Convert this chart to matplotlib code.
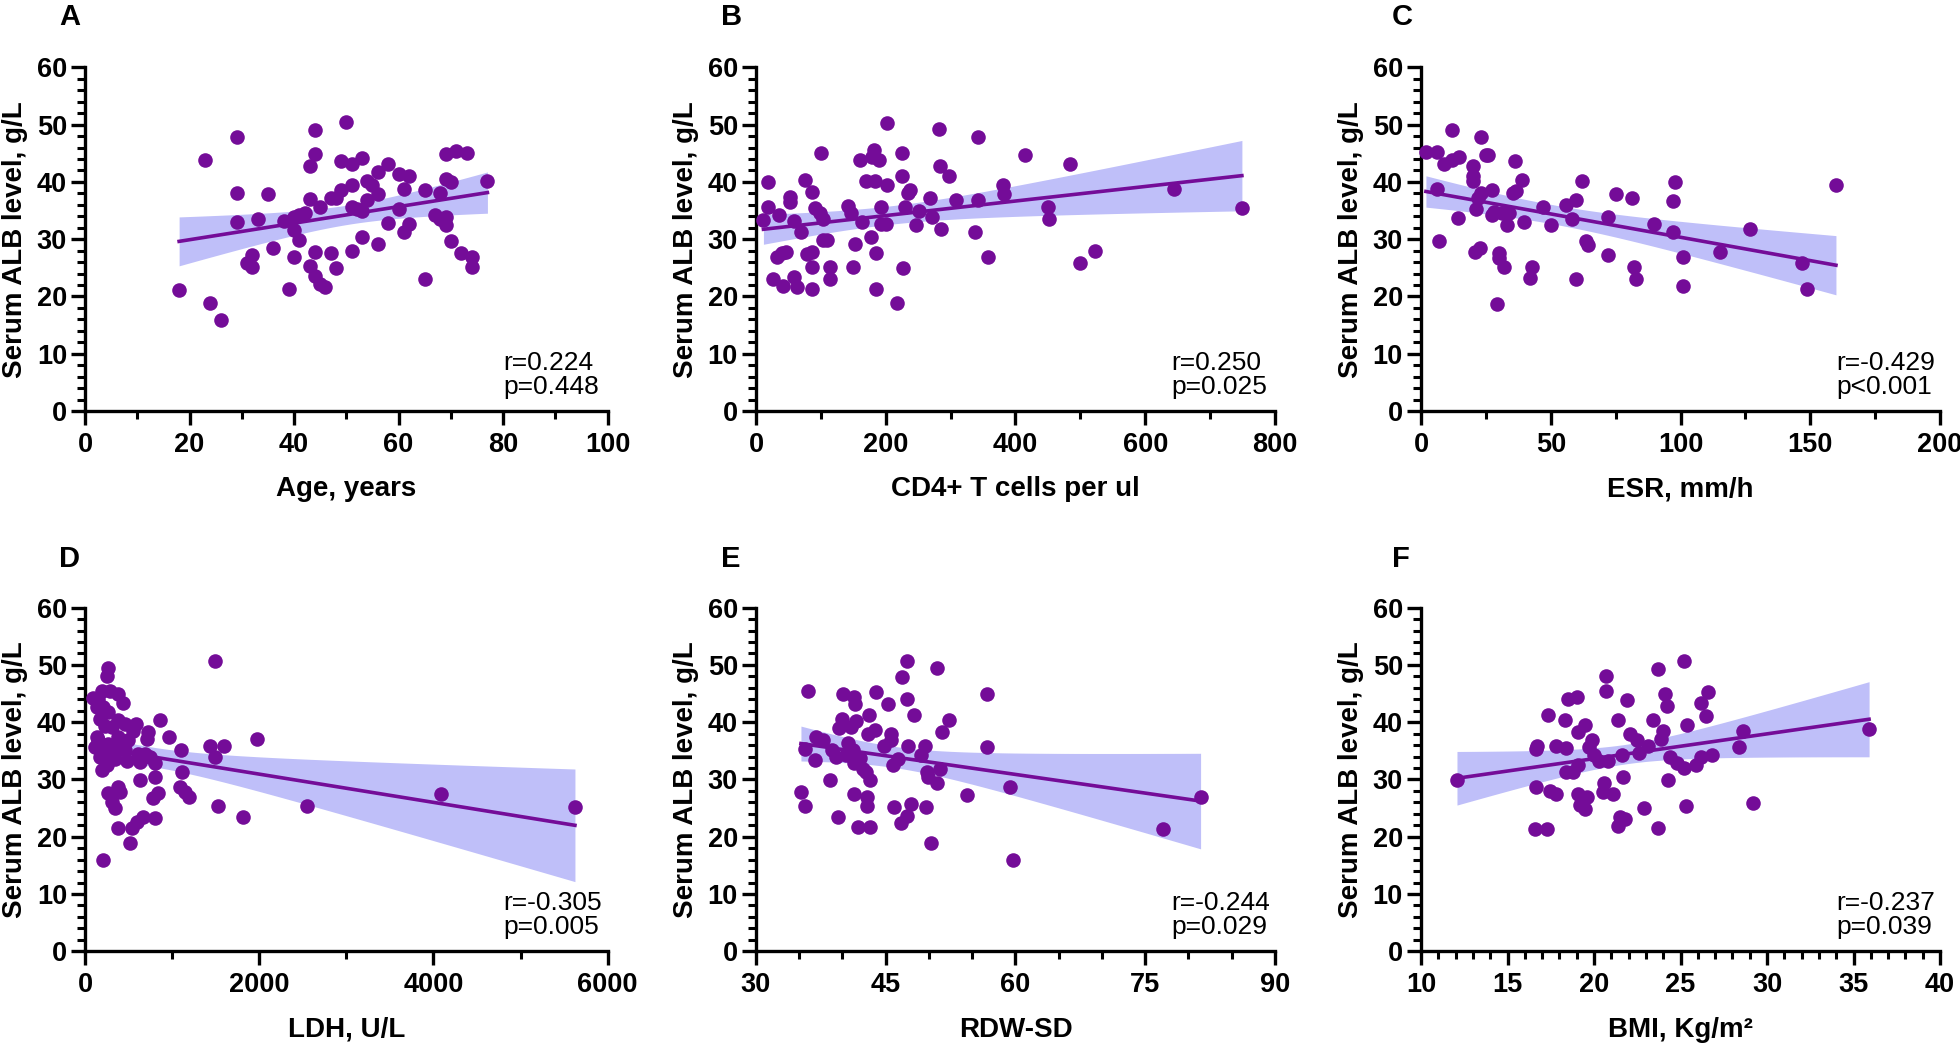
import numpy as np
import matplotlib
matplotlib.use("Agg")
import matplotlib.pyplot as plt
from matplotlib.ticker import MultipleLocator

plt.rcParams['font.family'] = ['Liberation Sans', 'DejaVu Sans']

# data
age_x = [18, 23, 24, 26, 29, 29, 29, 31, 32, 32, 33, 35, 36, 38, 39, 40, 40, 40, 41, 41, 42, 43, 43, 43,
         44, 44, 44, 44, 45, 46, 45, 47, 47, 48, 48, 49, 49, 50, 51, 51, 51, 51, 52, 53, 53, 53, 54, 54,
         55, 56, 56, 56, 58, 58, 60, 60, 61, 61, 62, 62, 65, 65, 67, 68, 68, 69, 69, 69, 69, 70, 70, 71,
         72, 73, 74, 74, 77]
age_y = [21.2, 43.9, 18.8, 15.9, 47.9, 38.1, 33.0, 25.8, 27.3, 25.1, 33.6, 37.8, 28.4, 33.1, 21.3, 26.8,
         31.6, 33.9, 29.8, 34.2, 34.5, 42.8, 37.0, 25.3, 49.1, 44.9, 27.7, 23.5, 22.1, 21.6, 35.6, 27.5,
         37.1, 25.0, 37.1, 38.5, 43.6, 50.5, 43.1, 39.5, 35.6, 28.0, 35.3, 44.2, 34.9, 30.3, 40.2, 36.8,
         39.4, 41.7, 37.9, 29.2, 43.1, 32.9, 41.4, 35.3, 38.8, 31.3, 41.1, 32.6, 38.6, 23.0, 34.2, 38.0,
         33.6, 44.9, 40.5, 33.9, 32.4, 40.0, 29.7, 45.4, 27.5, 45.1, 26.8, 25.2, 40.2]

cd4_x = [11.5, 18, 19, 35, 33, 40, 47, 26, 41.5, 53, 53, 59, 58, 63, 69, 75, 79, 86, 87, 86, 86, 91, 98,
         104, 100, 104, 110, 114, 114, 142, 146, 149, 153, 161, 163, 170, 178, 179, 182, 184, 185, 189,
         185, 193, 193, 202, 202, 201, 218, 225, 225, 227, 230, 235, 238, 247, 252, 268, 271, 282, 284,
         285, 297, 309, 337, 342, 343, 358, 381, 382, 414, 450, 452, 484, 499, 522, 644, 749]
cd4_y = [33.3, 40.0, 35.6, 34.2, 26.8, 27.5, 27.8, 23.1, 21.9, 37.4, 36.5, 33.2, 23.4, 21.7, 31.3, 40.4,
         27.4, 27.8, 38.2, 25.2, 21.3, 35.5, 34.5, 33.6, 45.0, 29.9, 29.9, 25.2, 23.1, 35.8, 34.5, 25.2,
         29.2, 43.8, 33.0, 40.2, 30.3, 44.3, 45.6, 40.2, 27.5, 43.8, 21.3, 35.6, 32.6, 39.5, 50.3, 32.7,
         18.8, 45.0, 41.0, 24.9, 35.6, 38.0, 38.6, 32.4, 35.0, 37.1, 33.8, 49.2, 42.8, 31.8, 41.1, 36.8,
         31.3, 47.9, 36.9, 26.8, 39.5, 37.8, 44.7, 35.6, 33.6, 43.1, 25.8, 28.0, 38.8, 35.5]

esr_x = [1.9, 6.3, 6.3, 7.1, 9.0, 11.8, 12.1, 14.5, 14.2, 20, 20, 20, 20.9, 22.8, 21.2, 22, 23.1, 23.1,
         25.2, 26, 27.2, 27.5, 29.4, 30.2, 30.2, 31.9, 28.3, 31.4, 33, 34.1, 36.2, 35.4, 36.5, 38.8, 39.8,
         42, 42.8, 47.2, 50, 55.8, 58.2, 59.7, 59.7, 62.1, 63.7, 64.5, 72, 72, 75, 81.3, 82.1, 82.9, 89.9,
         97, 97, 98, 101, 101, 115.3, 126.9, 147, 148.9, 159.9]
esr_y = [45.2, 45.3, 38.8, 29.7, 43.1, 49.0, 43.8, 44.3, 33.7, 42.8, 41.1, 40.2, 27.8, 28.4, 35.3, 37.1,
         47.9, 38.0, 44.7, 44.7, 38.6, 34.3, 18.7, 27.5, 26.7, 25.2, 34.8, 34.6, 32.4, 34.5, 43.7, 38.0,
         38.4, 40.4, 33.0, 23.3, 25.1, 35.6, 32.4, 35.9, 33.6, 36.9, 23.0, 40.2, 29.7, 29.0, 33.8, 27.3,
         37.8, 37.1, 25.1, 23.0, 32.7, 36.6, 31.2, 40.0, 26.8, 21.9, 27.8, 31.8, 25.8, 21.3, 39.5]

ldh_x = [260, 248, 191, 153, 287, 375, 440, 210, 172, 268, 382, 230, 305, 459, 581, 555, 727, 708, 861,
         964, 133, 153, 115, 210, 402, 287, 172, 344, 478, 612, 746, 631, 804, 1102, 191, 804, 1109, 631,
         382, 268, 402, 305, 344, 842, 784, 1091, 1148, 1194, 804, 669, 592, 535, 382, 517, 210, 1492,
         1435, 1596, 1492, 1970, 1530, 1817, 2544, 4088, 5625, 96, 133, 268, 497, 248, 459, 689, 382]
ldh_y = [49.5, 48.1, 45.5, 44.0, 45.5, 45.0, 43.3, 42.6, 40.6, 41.7, 40.3, 39.4, 39.1, 39.7, 39.6, 38.5,
         38.2, 37.1, 40.4, 37.4, 37.4, 36.8, 35.6, 35.6, 35.6, 34.5, 33.9, 33.6, 33.3, 34.5, 33.9, 33.0,
         32.8, 35.2, 31.6, 30.4, 31.3, 29.9, 28.7, 27.6, 27.8, 26.1, 25.0, 27.6, 26.7, 28.7, 27.8, 26.9,
         23.2, 23.5, 22.6, 21.5, 21.5, 18.9, 16.0, 50.7, 35.8, 35.8, 33.9, 37.1, 25.4, 23.5, 25.4, 27.4,
         25.2, 44.3, 42.6, 36.2, 36.8, 32.5, 35.1, 34.5, 37.4]

rdw_x = [36.05, 35.2, 35.7, 35.7, 36.8, 36.9, 37.7, 38.6, 38.8, 39.5, 39.2, 40.1, 41.3, 41.4, 40.0, 39.6,
         41.6, 40.6, 41.2, 40.4, 41.3, 42.0, 41.3, 41.8, 42.8, 42.8, 43.1, 42.9, 43.8, 43.2, 43.2, 42.7,
         42.4, 43.9, 45.3, 45.6, 45.6, 44.8, 45.8, 46.4, 46.0, 46.9, 47.5, 47.5, 47.6, 47.5, 46.8, 47.9,
         48.3, 49.5, 49.1, 49.7, 49.8, 49.9, 50.2, 50.9, 50.9, 51.3, 51.5, 52.3, 54.4, 56.7, 56.7, 59.4,
         59.7, 77.0, 81.4, 41.0]
rdw_y = [45.5, 27.8, 25.4, 35.4, 33.4, 37.4, 36.9, 29.9, 35.1, 23.5, 33.9, 45.0, 44.4, 43.1, 40.6, 39.0,
         40.2, 36.4, 35.1, 34.2, 32.8, 33.7, 27.5, 21.7, 27.0, 25.4, 41.3, 37.9, 38.6, 21.7, 29.9, 31.3,
         31.8, 45.3, 43.2, 37.9, 36.8, 35.8, 32.6, 33.6, 25.2, 47.9, 50.7, 44.0, 35.8, 23.6, 22.4, 25.7,
         41.3, 35.8, 34.2, 25.2, 31.3, 30.4, 18.9, 49.4, 29.3, 31.9, 38.2, 40.4, 27.3, 44.9, 35.6, 28.6,
         16.0, 21.4, 27.0, 39.1]

bmi_x = [12.08, 16.64, 16.67, 16.7, 16.6, 17.3, 17.35, 17.46, 17.8, 17.8, 18.4, 18.3, 18.5, 19.0, 18.4,
         18.8, 19.1, 19.1, 19.5, 19.7, 19.9, 19.1, 19.6, 19.2, 19.5, 20.0, 20.3, 20.7, 20.7, 20.6, 20.5,
         21.1, 20.8, 21.4, 21.6, 21.7, 21.9, 22.1, 22.5, 22.6, 23.1, 21.5, 21.8, 21.4, 22.9, 23.7, 23.4,
         23.7, 24.0, 23.9, 24.1, 24.2, 24.3, 24.4, 24.8, 25.2, 25.2, 25.4, 25.3, 25.9, 26.2, 26.8, 26.2,
         26.5, 26.6, 28.4, 28.6, 29.2, 35.9]
bmi_y = [29.9, 28.7, 35.4, 35.8, 21.4, 21.4, 41.3, 28.0, 27.5, 35.8, 35.5, 40.4, 44.0, 44.4, 31.3, 31.3,
         32.6, 38.2, 39.5, 35.6, 36.8, 27.5, 27.0, 25.5, 24.9, 34.2, 33.3, 48.1, 45.5, 29.3, 27.8, 27.4,
         33.3, 40.4, 34.2, 30.5, 43.8, 38.0, 36.9, 34.6, 35.8, 23.4, 23.1, 21.9, 25.0, 21.6, 40.4, 49.2,
         38.5, 37.1, 44.9, 42.9, 29.9, 33.9, 32.8, 32.0, 50.7, 39.5, 25.4, 32.5, 33.9, 34.3, 43.3, 41.1,
         45.3, 35.6, 38.4, 25.8, 38.8]

letters = ["A", "B", "C", "D", "E", "F"]
xlabels = ["Age, years", "CD4+ T cells per ul", "ESR, mm/h", "LDH, U/L", "RDW-SD", "BMI, Kg/m²"]
stats = ["r=0.224\np=0.448", "r=0.250\np=0.025", "r=-0.429\np<0.001",
         "r=-0.305\np=0.005", "r=-0.244\np=0.029", "r=-0.237\np=0.039"]
xlims = [(0, 100), (0, 800), (0, 200), (0, 6000), (30, 90), (10, 40)]
xmajor = [20, 200, 50, 2000, 15, 5]
xminor = [10, 100, 25, 1000, 5, 1]
xs_all = [age_x, cd4_x, esr_x, ldh_x, rdw_x, bmi_x]
ys_all = [age_y, cd4_y, esr_y, ldh_y, rdw_y, bmi_y]

dot_color = "#740c98"
band_color = "#bfbff9"

fig = plt.figure(figsize=(19.6, 10.54), dpi=100)

lefts = [0.0434, 0.3857, 0.7250]
widths = [0.2666, 0.2648, 0.2648]
bottoms = [0.6101, 0.0975]
height = 0.326
letter_x = [0.0300, 0.368, 0.710]
letter_y = [0.984, 0.470]


def fit_band(x, y):
    # linear fit with 95% confidence band
    x = np.asarray(x, float)
    y = np.asarray(y, float)
    b, a = np.polyfit(x, y, 1)
    xs = np.linspace(x.min(), x.max(), 200)
    yhat = a + b * xs
    n = len(x)
    s = np.sqrt(np.sum((y - (a + b * x)) ** 2) / (n - 2))
    se = s * np.sqrt(1 / n + (xs - x.mean()) ** 2 / np.sum((x - x.mean()) ** 2))
    return xs, yhat, yhat - 1.99 * se, yhat + 1.99 * se


for i in range(6):
    row, col = divmod(i, 3)
    ax = fig.add_axes([lefts[col], bottoms[row], widths[col], height])
    x, y = xs_all[i], ys_all[i]

    xs, yhat, lo, hi = fit_band(x, y)
    ax.fill_between(xs, lo, hi, color=band_color, lw=0, zorder=1)
    ax.plot(xs, yhat, color=dot_color, lw=2.6, zorder=2)
    ax.scatter(x, y, s=110, color=dot_color, lw=0, zorder=3, clip_on=False)

    ax.set_xlim(xlims[i])
    ax.set_ylim(0, 60)
    ax.xaxis.set_major_locator(MultipleLocator(xmajor[i]))
    ax.xaxis.set_minor_locator(MultipleLocator(xminor[i]))
    ax.yaxis.set_major_locator(MultipleLocator(10))
    ax.yaxis.set_minor_locator(MultipleLocator(2))

    for side in ["top", "right"]:
        ax.spines[side].set_visible(False)
    for side in ["left", "bottom"]:
        ax.spines[side].set_linewidth(2.4)
    ax.tick_params(which="major", direction="out", length=10, width=2.4, labelsize=19.5)
    ax.tick_params(which="minor", direction="out", length=6, width=2.2)
    ax.tick_params(axis="x", which="major", pad=5)
    ax.tick_params(axis="y", which="major", pad=3)
    for lab in ax.get_xticklabels() + ax.get_yticklabels():
        lab.set_fontweight("bold")

    ax.set_xlabel(xlabels[i], fontsize=20, fontweight="bold", va="top")
    ax.xaxis.set_label_coords(0.5, -0.19)
    ax.set_ylabel("Serum ALB level, g/L", fontsize=20, fontweight="bold", va="center")
    ax.yaxis.set_label_coords(-0.135, 0.5)

    ax.text(0.80, 0.035, stats[i], transform=ax.transAxes, ha="left", va="bottom",
            fontsize=19, linespacing=1.0)

    fig.text(letter_x[col], letter_y[row], letters[i], fontsize=21, fontweight="bold",
             ha="left", va="center")

fig.savefig("out.png", dpi=100)
